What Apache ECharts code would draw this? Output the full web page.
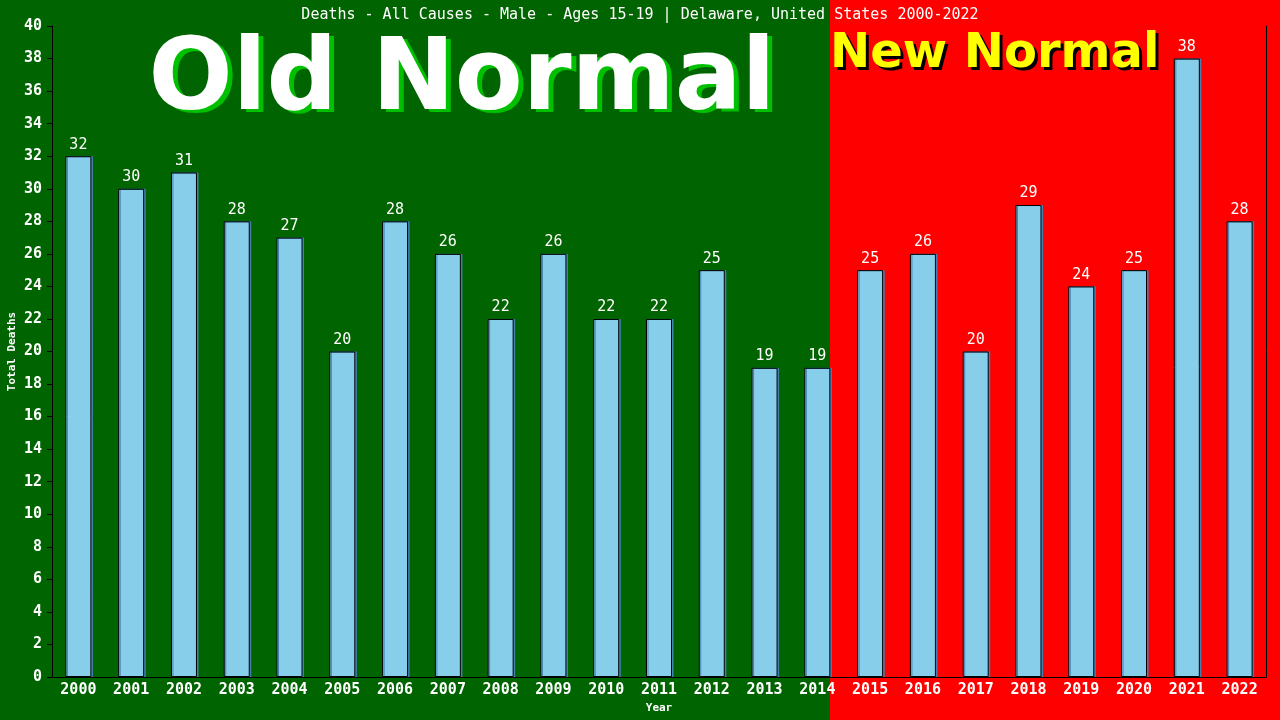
<!DOCTYPE html>
<html>
<head>
<meta charset="utf-8">
<script src="https://cdn.jsdelivr.net/npm/echarts@6/dist/echarts.min.js"></script>
<style>
  html, body { margin: 0; padding: 0; background: #006400; }
  #chart { width: 1280px; height: 720px; }
</style>
</head>
<body>
<div id="chart"></div>
<script>
  const years = ["2000", "2001", "2002", "2003", "2004", "2005", "2006", "2007",
    "2008", "2009", "2010", "2011", "2012", "2013", "2014", "2015", "2016",
    "2017", "2018", "2019", "2020", "2021", "2022"];
  const deaths = [32, 30, 31, 28, 27, 20, 28, 26, 22, 26, 22, 22, 25, 19, 19,
    25, 26, 20, 29, 24, 25, 38, 28];
  const lastOldYear = "2014";

  const mono = "DejaVu Sans Mono";
  const chart = echarts.init(document.getElementById("chart"));

  chart.setOption({
    backgroundColor: "#006400",
    animation: false,
    title: {
      text: "Deaths - All Causes - Male - Ages 15-19 | Delaware, United States 2000-2022",
      left: "center",
      top: 3,
      textStyle: { color: "#fff", fontFamily: mono, fontSize: 15, fontWeight: "normal" }
    },
    grid: { left: 52, right: 14, top: 26, bottom: 43, containLabel: false, outerBoundsMode: "none" },
    xAxis: {
      type: "category",
      data: years,
      name: "Year",
      nameLocation: "middle",
      nameGap: 26,
      nameMoveOverlap: false,
      nameTextStyle: { color: "#fff", fontFamily: mono, fontSize: 11, fontWeight: "bold" },
      axisLine: { lineStyle: { color: "#000", width: 1 } },
      axisTick: { show: false },
      axisLabel: { color: "#fff", fontFamily: mono, fontSize: 15, fontWeight: "bold", margin: 6 }
    },
    yAxis: [
      {
        type: "value",
        min: 0,
        max: 40,
        interval: 2,
        name: "Total Deaths",
        nameLocation: "middle",
        nameGap: 34,
        nameMoveOverlap: false,
        nameTextStyle: { color: "#fff", fontFamily: mono, fontSize: 11, fontWeight: "bold" },
        axisLine: { show: true, lineStyle: { color: "#000", width: 1 } },
        axisTick: { show: true, length: 5, lineStyle: { color: "#000" } },
        axisLabel: { color: "#fff", fontFamily: mono, fontSize: 15, fontWeight: "bold", margin: 10 },
        splitLine: { show: false }
      },
      {
        type: "value",
        min: 0,
        max: 40,
        position: "right",
        axisLine: { show: true, lineStyle: { color: "#000", width: 1 } },
        axisTick: { show: false },
        axisLabel: { show: false },
        splitLine: { show: false }
      }
    ],
    series: [
      {
        type: "bar",
        data: deaths,
        barWidth: 26,
        z: 5,
        itemStyle: {
          color: "#87CEEB",
          borderColor: "#000",
          borderWidth: 1,
          shadowColor: "#4682B4",
          shadowOffsetX: 1.5,
          shadowBlur: 0
        },
        label: {
          show: true,
          position: "top",
          distance: 4,
          color: "#fff",
          fontFamily: mono,
          fontSize: 15
        }
      }
    ]
  });

  // red "new normal" zone starts at the right edge of the last old-normal bar
  const xOld = chart.convertToPixel({ xAxisIndex: 0 }, lastOldYear);
  const redStart = Math.round(xOld + 13);

  const bigText = (text, x, y, fill, font, align) => ({
    type: "text",
    z: 1,
    silent: true,
    x: x,
    y: y,
    style: { text: text, fill: fill, font: font, align: align, verticalAlign: "middle" }
  });

  const oldFont = "bold 99px 'DejaVu Sans'";
  const newFont = "bold 48px 'DejaVu Sans'";

  chart.setOption({
    graphic: [
      {
        type: "rect",
        z: -10,
        silent: true,
        shape: { x: redStart, y: 0, width: 1280 - redStart, height: 720 },
        style: { fill: "#ff0000" }
      },
      bigText("Old Normal", 467, 86, "#00c000", oldFont, "center"),
      bigText("Old Normal", 462, 83, "#fff", oldFont, "center"),
      bigText("New Normal", redStart + 3, 58, "#000", newFont, "left"),
      bigText("New Normal", redStart, 55, "#ffff00", newFont, "left")
    ]
  });
</script>
</body>
</html>
